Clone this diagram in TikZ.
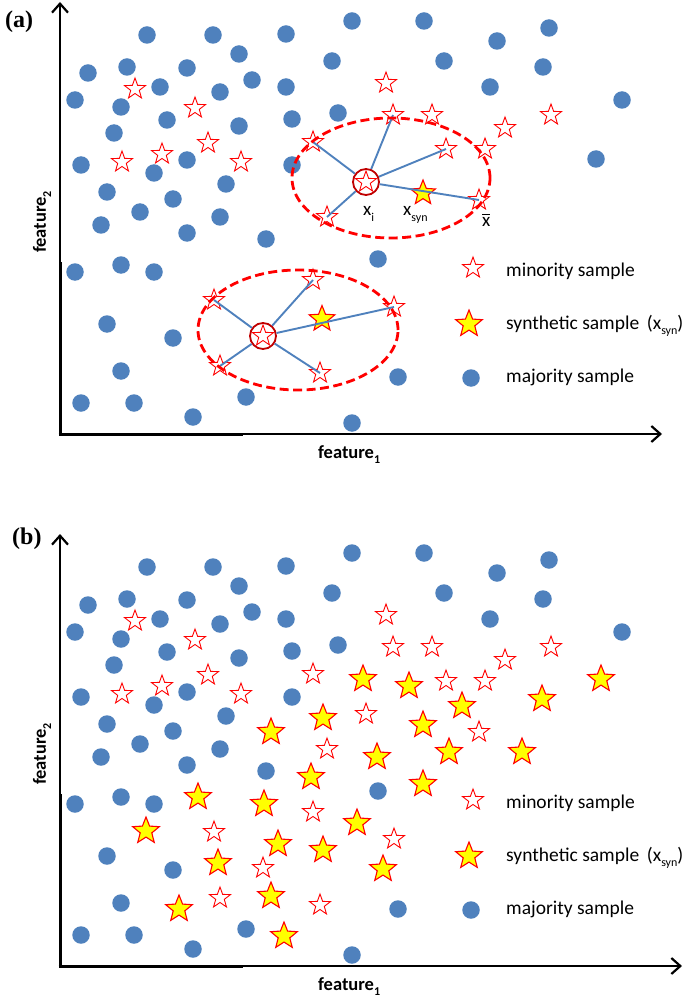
\documentclass[tikz,border=0pt]{standalone}
\usepackage{fontspec}
\setmainfont{Carlito}
\newfontfamily\tnr{Liberation Serif}
\usetikzlibrary{shapes.geometric,arrows.meta}
\definecolor{dotblue}{HTML}{4F81BD}
\definecolor{starred}{HTML}{FF0000}
\definecolor{ringred}{HTML}{C00000}
\definecolor{synyellow}{HTML}{FFFF00}
\newcommand\sbs[1]{\raisebox{-0.28em}{\fontsize{12}{12}\selectfont #1}}
\newcommand\xbar{\ooalign{x\cr\hidewidth\raisebox{0.62em}{\rule{0.42em}{0.07em}}\hidewidth\cr}}
\tikzset{
  majdot/.style={circle,fill=dotblue,inner sep=0pt,minimum size=17.5pt},
  minstar/.style={star,star points=5,star point ratio=2.45,draw=starred,fill=white,line width=0.9pt,inner sep=0pt,minimum size=22pt},
  synstar/.style={star,star points=5,star point ratio=2.3,draw=starred,fill=synyellow,line width=1.1pt,inner sep=0pt,minimum size=28pt},
  axisline/.style={line width=2pt,-{Straight Barb[length=9pt,width=16pt,line width=2.2pt]}},
  axisthick/.style={line width=3pt},
  link/.style={draw=dotblue,line width=1.9pt},
  ring/.style={circle,draw=ringred,line width=1.8pt,inner sep=0pt,minimum size=26pt},
  nbhood/.style={ellipse,draw=starred,line width=2.8pt,dash pattern=on 9pt off 4.5pt,inner sep=0pt},
  legtext/.style={anchor=base west,inner sep=0pt,font=\fontsize{19.5}{23}\selectfont},
  ptlabel/.style={anchor=base west,inner sep=0pt,font=\fontsize{19}{22}\selectfont},
  axlabel/.style={inner sep=0pt,font=\fontsize{18.5}{22}\selectfont\bfseries},
  panellabel/.style={anchor=base west,inner sep=0pt,font=\tnr\fontsize{24}{28}\selectfont\bfseries},
}
% common content of a panel: #1 prefix, #2 x of horizontal arrow tip
\newcommand\panelbase[2]{%
  \coordinate (#1o) at (60,434);
  \coordinate (#1ytip) at (60,2);
  \coordinate (#1xtip) at (#2,434);
  \coordinate (#1yk) at (60,262);
  \coordinate (#1xk) at (243,434);
  \draw[axisline] (#1o) -- (#1ytip);
  \draw[axisline] (#1o) -- (#1xtip);
  \draw[axisthick] (#1o) -- (#1yk);
  \draw[axisthick] ([xshift=-1.5pt]#1o) -- (#1xk);
  \node[axlabel,rotate=90] (#1f2) at (42,222) {feature\sbs{2}};
  \node[axlabel,anchor=base west] (#1f1) at (318,458) {feature\sbs{1}};
  \foreach \x/\y [count=\i] in {147/35,213/35,286/34,239/54,88/73,127/67,187/68,332/61,
      75/100,160/87,252/80,286/87,121/107,220/92,167/120,292/119,338/113,114/133,239/126,
      81/165,187/160,154/173,292/165,107/192,226/184,173/199,140/212,220/217,101/225,
      352/21,424/21,497/41,549/28,444/61,543/67,490/87,622/100,
      187/233,266/239,75/272,121/265,154/272,107/324,173/338,121/371,81/403,134/403,
      193/417,246/397,378/259,398/377,352/423}
    {\node[majdot] (#1d\i) at (\x,\y) {};}
  \foreach \x/\y [count=\i] in {135/89,195/108,208/143,122/162,162/154,241/162,386/83,
      393/115,432/115,505/128,551/115,485/149,313/142,446/149,479/200,327/217,366/182,
      214/300,313/280,394/307,220/366,320/373,263/336}
    {\node[minstar] (#1m\i) at (\x,\y) {};}
  % legend
  \node[minstar] (#1lm) at (473,268) {};
  \node[synstar] (#1ls) at (469,324) {};
  \node[majdot] (#1ld) at (471,378) {};
  \node[legtext] (#1ltm) at (506,276) {minority sample};
  \node[legtext] (#1lts) at (506,329) {synthetic sample \,(x\sbs{syn})};
  \node[legtext] (#1ltd) at (506,382) {majority sample};
}
\begin{document}
\begin{tikzpicture}[x=1pt,y=-1pt]
\useasboundingbox (0,0) rectangle (685,1000);
% ---------------- panel (a)
\node[panellabel] (lbla) at (5,28) {(a)};
\panelbase{a}{662}
\node[majdot] (ad54) at (596,159) {};
\node[synstar,minimum size=26pt] (as1) at (423,193) {};
\node[synstar,minimum size=27pt] (as2) at (322,319) {};
\node[ring] (ar1) at (am17) {};
\node[ring] (ar2) at (am23) {};
\foreach \j in {13,8,14,15,16} {\draw[link] (ar1) -- (am\j.center);}
\foreach \j in {18,19,20,21,22} {\draw[link] (ar2) -- (am\j.center);}
\node[nbhood,minimum width=198pt,minimum height=120pt] (ae1) at (391,178) {};
\node[nbhood,minimum width=200pt,minimum height=120pt] (ae2) at (298,330) {};
\node[ptlabel] (axi) at (363,216) {x\sbs{i}};
\node[ptlabel] (axs) at (403,216) {x\sbs{syn}};
\node[ptlabel] (axb) at (482,227) {\xbar};
% ---------------- panel (b)
\node[panellabel] (lblb) at (12,544) {(b)};
\begin{scope}[shift={(0,532)}]
\panelbase{b}{682}
\foreach \x/\y [count=\i] in {363/679,409/686,462/706,542/699,601/679,323/718,423/725,
    271/732,377/757,449/752,522/752,311/777,423/784,198/797,264/804,357/823,146/831,
    278/844,323/850,218/863,383/869,271/896,179/909,284/936}
  {\node[synstar] (bs\i) at (\x,\y-532) {};}
\end{scope}
\end{tikzpicture}
\end{document}
